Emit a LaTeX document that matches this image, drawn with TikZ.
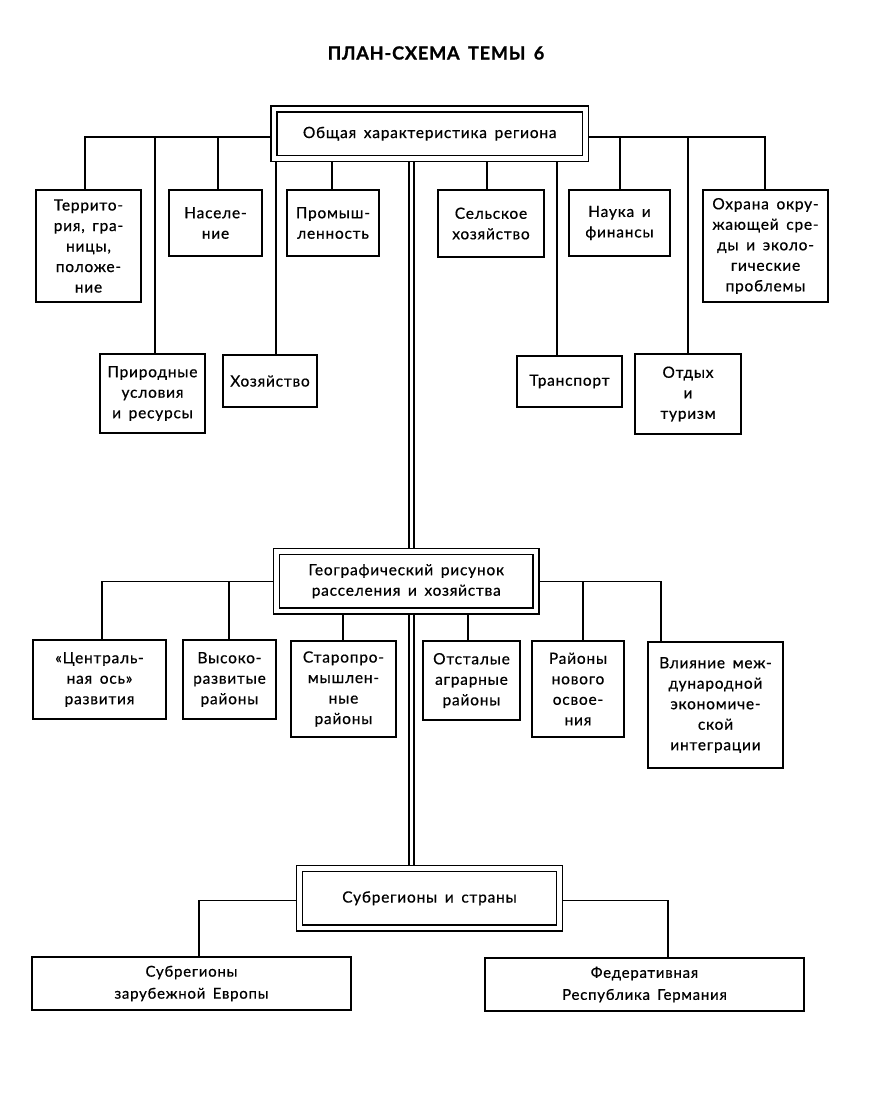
\documentclass[tikz,border=0pt]{standalone}
\usepackage{fontspec}
\setmainfont{Lato}[LetterSpace=5, WordSpace=1.6, FakeBold=0.6, BoldFeatures={FakeBold=1.2}]
\begin{document}
\begin{tikzpicture}[x=1pt,y=-1pt,
  txt/.style={font=\fontsize{15.5}{20.5}\selectfont},
  box/.style={draw, line width=1.4pt, inner sep=0pt, align=center, txt},
  dbox/.style={draw, line width=1.3pt, double, double distance=4.5pt, outer sep=3.55pt, inner sep=0pt, align=center, txt},
  ln/.style={line width=1.2pt},
  spine/.style={line width=1.3pt, double, double distance=3.7pt}]
\useasboundingbox (0,0) rectangle (869,1094);

\node[font=\bfseries\fontsize{18}{20}\selectfont] (title) at (436,53) {ПЛАН-СХЕМА ТЕМЫ 6};

% top level
\node[dbox, minimum width=311.5, minimum height=49.5] (top) at (429.75,133.75) {Общая характеристика региона};

\node[box, minimum width=105, minimum height=112] (terr) at (88.5,246) {Террито-\\рия, гра-\\ницы,\\положе-\\ние};
\node[box, minimum width=105, minimum height=79] (prir) at (152.5,393.5) {Природные\\условия\\и ресурсы};
\node[box, minimum width=93, minimum height=66] (nas) at (215.5,223) {Населе-\\ние};
\node[box, minimum width=94, minimum height=52] (hoz) at (270,381) {Хозяйство};
\node[box, minimum width=92, minimum height=66] (prom) at (333,223) {Промыш-\\ленность};
\node[box, minimum width=106, minimum height=67] (sel) at (491,223.5) {Сельское\\хозяйство};
\node[box, minimum width=105, minimum height=51] (trans) at (569.5,381.5) {Транспорт};
\node[box, minimum width=101, minimum height=66] (nauka) at (619.5,223) {Наука и\\финансы};
\node[box, minimum width=125, minimum height=112] (ohr) at (765.5,246) {Охрана окру-\\жающей сре-\\ды и эколо-\\гические\\проблемы};
\node[box, minimum width=106, minimum height=80] (otd) at (688,394) {Отдых\\и\\туризм};

% middle level
\node[dbox, minimum width=259.5, minimum height=59.5] (geo) at (406.25,581.25) {Географический рисунок\\расселения и хозяйства};

\node[box, minimum width=133, minimum height=79] (cen) at (99.5,679.5) {«Централь-\\ная ось»\\развития};
\node[box, minimum width=93, minimum height=79] (vys) at (229.5,679.5) {Высоко-\\развитые\\районы};
\node[box, minimum width=105, minimum height=96] (star) at (343.5,689) {Старопро-\\мышлен-\\ные\\районы};
\node[box, minimum width=97, minimum height=79] (ots) at (471.5,680.5) {Отсталые\\аграрные\\районы};
\node[box, minimum width=92, minimum height=96] (raj) at (578,689) {Районы\\нового\\освое-\\ния};
\node[box, minimum width=135, minimum height=126] (vli) at (715.5,705) {Влияние меж-\\дународной\\экономиче-\\ской\\интеграции};

% bottom level
\node[dbox, minimum width=260, minimum height=59.5] (subc) at (429.5,898.25) {Субрегионы и страны};
\node[box, minimum width=319, minimum height=53, font=\fontsize{15}{22}\selectfont] (subeu) at (191.5,983.5) {Субрегионы\\зарубежной Европы};
\node[box, minimum width=319, minimum height=53, font=\fontsize{15}{22}\selectfont] (frg) at (644.5,984.5) {Федеративная\\Республика Германия};

% spine
\coordinate (sp) at (411.5,0);
\draw[spine] (top.south -| sp) -- (geo.north -| sp);
\draw[spine] (geo.south -| sp) -- (subc.north -| sp);

% top connectors
\coordinate (bus1) at (0,137);
\coordinate (cTerr) at ([xshift=-3.5]terr.north);
\coordinate (cPrir) at ([xshift=2.5]prir.north);
\coordinate (cNas) at ([xshift=2.5]nas.north);
\coordinate (cHoz) at ([xshift=6]hoz.north);
\coordinate (cProm) at ([xshift=-1]prom.north);
\coordinate (cSel) at ([xshift=-4]sel.north);
\coordinate (cTrans) at ([xshift=-12.5]trans.north);
\coordinate (cNauka) at ([xshift=0.5]nauka.north);
\coordinate (cOtd) at (otd.north);
\coordinate (cOhr) at ([xshift=-0.5]ohr.north);
\draw[ln] (top.west |- bus1) -| (cTerr);
\draw[ln] (top.west |- bus1) -| (cPrir);
\draw[ln] (top.west |- bus1) -| (cNas);
\draw[ln] (top.east |- bus1) -| (cNauka);
\draw[ln] (top.east |- bus1) -| (cOtd);
\draw[ln] (top.east |- bus1) -| (cOhr);
\draw[ln] (cHoz |- top.south) -- (cHoz);
\draw[ln] (cProm |- top.south) -- (cProm);
\draw[ln] (cSel |- top.south) -- (cSel);
\draw[ln] (cTrans |- top.south) -- (cTrans);

% middle connectors
\coordinate (cCen) at ([xshift=2.5]cen.north);
\coordinate (cVys) at ([xshift=-0.5]vys.north);
\coordinate (cStar) at ([xshift=-0.5]star.north);
\coordinate (cOts) at ([xshift=-3.5]ots.north);
\coordinate (cRaj) at ([xshift=5]raj.north);
\coordinate (cVli) at ([xshift=-54.5]vli.north);
\draw[ln] (geo.west) -| (cCen);
\draw[ln] (geo.west) -| (cVys);
\draw[ln] (cStar |- geo.south) -- (cStar);
\draw[ln] (cOts |- geo.south) -- (cOts);
\draw[ln] (geo.east) -| (cRaj);
\draw[ln] (geo.east) -| (cVli);

% bottom connectors
\coordinate (bus3) at (0,900.5);
\coordinate (cSub) at ([xshift=7.5]subeu.north);
\coordinate (cFrg) at ([xshift=23.5]frg.north);
\draw[ln] (subc.west |- bus3) -| (cSub);
\draw[ln] (subc.east |- bus3) -| (cFrg);
\end{tikzpicture}
\end{document}
